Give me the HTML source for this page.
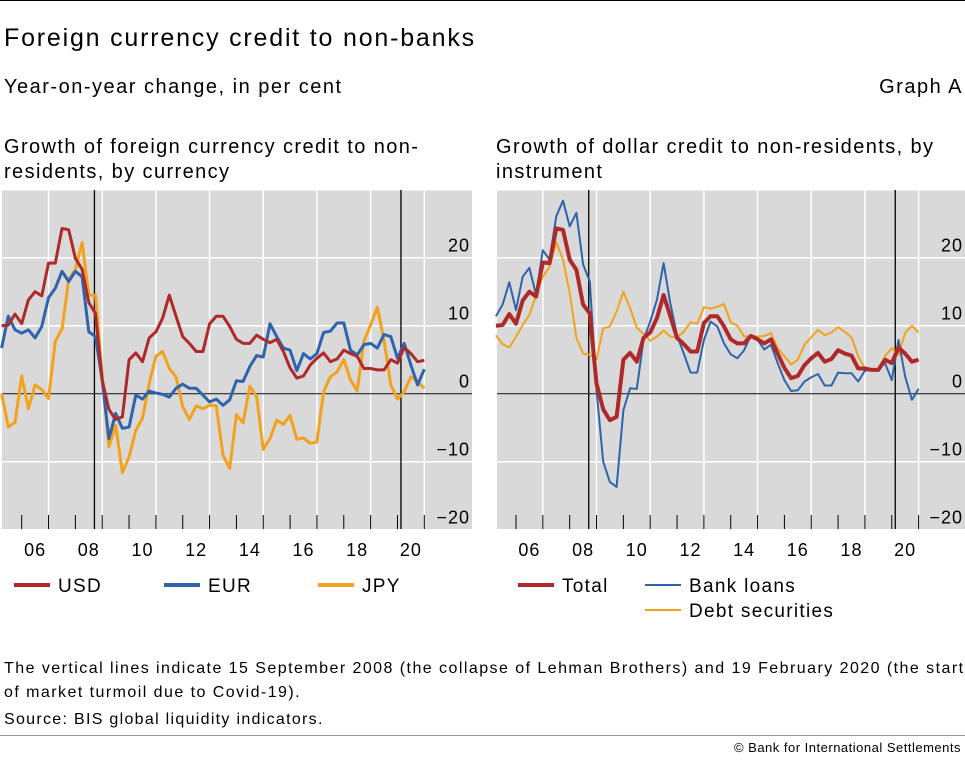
<!DOCTYPE html>
<html><head><meta charset="utf-8">
<style>
body{margin:0;width:965px;height:761px;background:#fff;font-family:"Liberation Sans",sans-serif;color:#000;overflow:hidden;position:relative}
.t{position:absolute;white-space:nowrap}
</style></head><body>
<div style="position:absolute;left:0;top:0;width:965px;height:1px;background:#000"></div>
<div class="t" style="left:4px;top:24px;font-size:25px;letter-spacing:1.8px">Foreign currency credit to non-banks</div>
<div class="t" style="left:4px;top:76px;font-size:20px;letter-spacing:1.5px">Year-on-year change, in per cent</div>
<div class="t" style="right:2px;top:76px;font-size:20px;letter-spacing:1.5px">Graph A</div>
<div class="t" style="left:4px;top:135px;font-size:20px;line-height:25px;letter-spacing:1.4px">Growth of foreign currency credit to non-<br>residents, by currency</div>
<div class="t" style="left:496px;top:135px;font-size:20px;line-height:25px;letter-spacing:1.4px">Growth of dollar credit to non-residents, by<br>instrument</div>
<svg id="chart" width="965" height="761" style="position:absolute;left:0;top:0"></svg>
<div class="t" style="left:4px;top:657px;font-size:16px;line-height:24px;letter-spacing:1.45px">The vertical lines indicate 15 September 2008 (the collapse of Lehman Brothers) and 19 February 2020 (the start<br>of market turmoil due to Covid-19).</div>
<div class="t" style="left:4px;top:711px;font-size:16px;letter-spacing:1.3px">Source: BIS global liquidity indicators.</div>
<div style="position:absolute;left:0;top:735px;width:965px;height:1px;background:#999"></div>
<div class="t" style="right:4px;top:740px;font-size:13px;letter-spacing:0.5px">© Bank for International Settlements</div>
<script>
const usd=[10.0,10.1,11.7,10.3,13.8,15.0,14.4,19.2,19.2,24.3,24.1,19.9,18.3,13.4,11.8,2.0,-2.3,-3.8,-3.4,5.0,6.0,4.7,8.2,9.1,11.1,14.5,11.4,8.4,7.4,6.2,6.2,10.3,11.4,11.4,9.9,8.0,7.4,7.4,8.6,8.0,7.5,8.0,6.2,3.8,2.3,2.6,4.2,5.2,6.0,4.7,5.1,6.4,5.9,5.5,3.7,3.7,3.5,3.5,5.0,4.5,6.8,5.9,4.7,4.9];
const eur=[6.7,11.4,9.4,8.9,9.4,8.2,9.9,14.1,15.5,18.0,16.5,18.0,17.2,9.1,8.4,2.0,-6.6,-2.9,-5.1,-4.9,-0.2,-0.8,0.4,0.1,-0.1,-0.5,0.8,1.4,0.8,0.8,-0.2,-1.2,-0.8,-1.7,-0.9,1.9,1.8,4.0,5.6,5.4,10.3,8.4,6.7,6.4,3.4,5.9,5.1,5.9,9.0,9.2,10.4,10.4,6.4,5.7,7.2,7.4,6.7,8.7,8.4,5.2,7.4,4.2,1.3,3.6];
const jpy=[0,-4.9,-4.2,2.6,-2.2,1.3,0.6,-0.7,7.7,9.5,16.8,18.3,22.2,14.5,14.5,2.5,-7.8,-4.6,-11.6,-9.3,-5.4,-3.6,1.5,5.5,6.2,3.7,2.5,-1.9,-3.8,-1.8,-2.2,-1.7,-1.8,-9.0,-11.0,-3.1,-4.3,1.1,-0.4,-8.2,-6.6,-3.9,-4.5,-3.2,-6.7,-6.5,-7.3,-7.1,0.3,2.5,3.2,5.0,2.0,0.4,7.7,10.1,12.7,7.9,1.3,-0.8,0.3,2.5,1.8,0.8];
const total=[10.0,10.1,11.7,10.3,13.7,15.0,14.3,19.3,19.2,24.3,24.1,19.7,18.2,13.1,11.8,1.5,-2.3,-3.9,-3.4,5.0,6.0,4.7,8.2,9.0,11.1,14.5,11.4,8.2,7.3,6.2,6.2,10.4,11.4,11.4,9.9,8.0,7.4,7.4,8.5,8.0,7.4,8.0,5.9,3.8,2.3,2.6,4.2,5.2,6.0,4.7,5.1,6.4,5.9,5.6,3.7,3.7,3.5,3.5,5.0,4.5,6.8,5.9,4.7,5.0];
const loans=[11.4,13.1,16.4,12.3,17.2,18.5,14.5,21.1,19.7,26.1,28.4,24.6,26.6,19.0,16.5,0.5,-10.0,-13.0,-13.7,-2.4,0.8,0.7,7.9,10.6,13.8,19.2,13.3,8.6,5.9,3.1,3.1,7.9,10.6,9.9,7.4,5.8,5.2,6.4,8.6,7.9,6.5,7.2,4.5,2.0,0.4,0.5,1.8,2.4,2.9,1.2,1.2,3.1,3.0,3.0,1.8,3.4,3.5,3.5,4.5,2.0,7.9,2.5,-0.9,0.7];
const debt=[8.6,7.3,6.8,8.4,10.1,11.6,14.5,17.2,18.6,22.3,19.7,14.8,8.2,5.9,5.7,5.0,9.6,9.9,12.1,15.0,12.6,9.7,8.8,7.8,8.4,9.3,8.4,8.3,9.1,10.5,10.3,12.7,12.5,12.8,13.2,10.5,10.0,8.4,8.5,8.4,8.5,8.9,6.7,5.5,4.3,5.0,7.2,8.3,9.4,8.6,9.0,9.8,9.1,8.3,5.5,3.7,3.5,3.5,5.5,6.7,5.7,9.0,10.0,9.0];
const yTicks=[20,10,0,-10,-20];
const yearLabels=["06","08","10","12","14","16","18","20"];
const yearLabelVals=[2006,2008,2010,2012,2014,2016,2018,2020];
const startYear=2005.25, step=0.25;

const NS="http://www.w3.org/2000/svg";
const svg=document.getElementById('chart');
function mk(tag,attrs,parent){const e=document.createElementNS(NS,tag);for(const k in attrs)e.setAttribute(k,attrs[k]);(parent||svg).appendChild(e);return e;}
function yS(v){return 393.7-v*6.8;}
const RED="#ae2a2a",BLUE="#2e64ae",ORANGE="#f2a21c";

function panel(name,x0,x1,x2006,series){
  const g=mk('g',{});
  
  
  const xS=t=>x2006+(t-2006)*26.84;
  const bg=mk('rect',{x:x0,y:190,width:x1-x0,height:339,fill:"#d9d9d9"},g);
  
  
  for(let v=30;v>=-20;v-=10){
    const l=mk('line',{x1:x0,x2:x1,y1:yS(v),y2:yS(v),stroke:"#fff","stroke-width":1.5},g);
    
    
  }
  for(let yr=2007;yr<=2021;yr+=2){
    const l=mk('line',{x1:xS(yr),x2:xS(yr),y1:190,y2:529,stroke:"#fff","stroke-width":1.5},g);
    
    
  }
  for(let yr=2006;yr<=2021;yr++){
    const l=mk('line',{x1:xS(yr),x2:xS(yr),y1:515,y2:529,stroke:"#000","stroke-width":1},g);
    
    
  }
  yearLabels.forEach((lab,i)=>{
    const t=mk('text',{x:xS(yearLabelVals[i]+0.5),y:556,"text-anchor":"middle","font-size":"18","letter-spacing":"1"},g);
    t.textContent=lab;
    
    
  });
  yTicks.forEach(v=>{
    const t=mk('text',{x:x1-2,y:yS(v)-6,"text-anchor":"end","font-size":"18","letter-spacing":"1"},g);
    t.textContent=v<0?"\u2212"+(-v):String(v);
    
    
  });
  const z=mk('line',{x1:x0,x2:x1,y1:yS(0),y2:yS(0),stroke:"#000","stroke-width":1},g);
  
  
  [2008.71,2020.13].forEach(d=>{
    const l=mk('line',{x1:xS(d),x2:xS(d),y1:190,y2:529,stroke:"#000","stroke-width":1.3},g);
    
    
  });
  series.forEach(s=>{
    const pts=s.data.map((v,i)=>xS(startYear+i*step).toFixed(1)+","+yS(v).toFixed(1)).join(" ");
    const p=mk('polyline',{points:pts,fill:"none",stroke:s.color,"stroke-width":s.w,"stroke-linejoin":"round"},g);
    
    
  });
}
panel('left-panel',2,472,21.7,[
  {data:jpy,color:ORANGE,w:3,name:'jpy-line'},
  {data:eur,color:BLUE,w:3,name:'eur-line'},
  {data:usd,color:RED,w:3,name:'usd-line'}]);
panel('right-panel',497,965,516,[
  {data:debt,color:ORANGE,w:2,name:'debt-securities-line'},
  {data:loans,color:BLUE,w:2,name:'bank-loans-line'},
  {data:total,color:RED,w:4,name:'total-line'}]);

function legend(name,x,y,color,w,label){
  const g=mk('g',{});
  
  
  mk('line',{x1:x,x2:x+36,y1:y,y2:y,stroke:color,"stroke-width":w},g);
  const t=mk('text',{x:x+44,y:y+7,"font-size":"19","letter-spacing":"1.3"},g);
  t.textContent=label;
}
legend('legend-usd',14,585,RED,4,'USD');
legend('legend-eur',164,585,BLUE,4,'EUR');
legend('legend-jpy',318,585,ORANGE,4,'JPY');
legend('legend-total',518,585,RED,4,'Total');
legend('legend-bank-loans',645,585,BLUE,2,'Bank loans');
legend('legend-debt-securities',645,610,ORANGE,2,'Debt securities');
</script>
</body></html>
